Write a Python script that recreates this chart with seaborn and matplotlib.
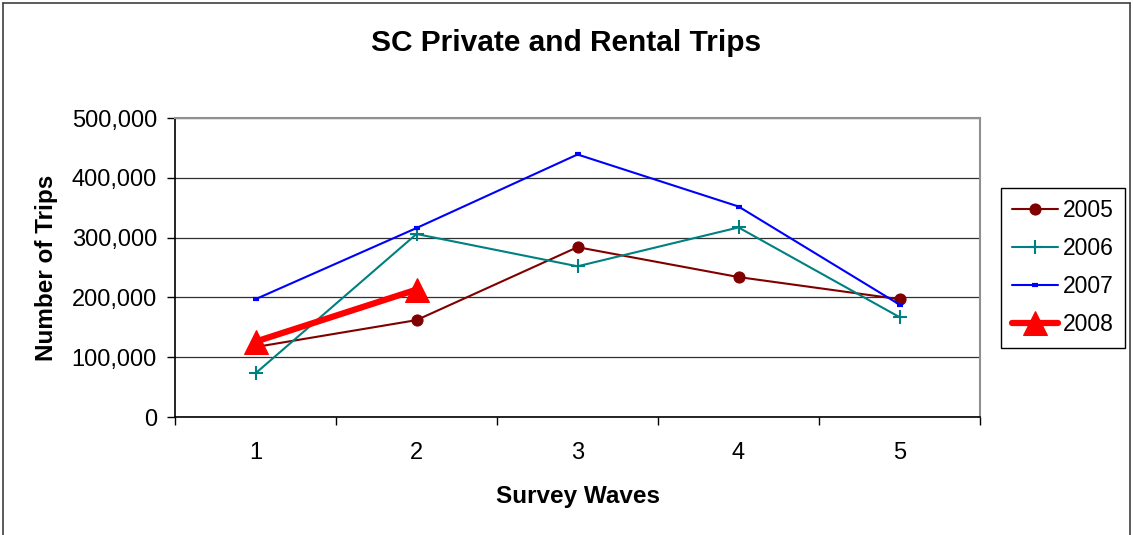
import matplotlib
matplotlib.use("Agg")
import matplotlib.pyplot as plt
from matplotlib.lines import Line2D
from matplotlib.ticker import FuncFormatter, FixedLocator
import seaborn as sns

# Values
waves = [1, 2, 3, 4, 5]
trips_2005 = [117000, 162000, 284000, 234000, 197000]
trips_2006 = [73000, 306000, 252000, 317000, 167000]
trips_2007 = [197000, 316000, 439000, 352000, 188000]
waves_2008 = [1, 2]
trips_2008 = [126000, 213000]

sns.set_style("white")
plt.rcParams["font.family"] = ["Liberation Sans", "DejaVu Sans"]
plt.rcParams["text.color"] = "black"
plt.rcParams["axes.labelcolor"] = "black"
plt.rcParams["xtick.color"] = "black"
plt.rcParams["ytick.color"] = "black"

fig = plt.figure(figsize=(11.33, 5.35), dpi=100)
ax = fig.add_axes([175 / 1133, 1 - 417 / 535, 805 / 1133, 299 / 535])

sns.lineplot(x=waves, y=trips_2005, ax=ax, color="#800000", lw=1.5,
             marker="o", markersize=8, mec="#800000", mfc="#800000", label="2005")
sns.lineplot(x=waves, y=trips_2006, ax=ax, color="#008080", lw=1.5,
             marker="+", markersize=10, mew=1.5, mec="#008080", label="2006")
sns.lineplot(x=waves, y=trips_2007, ax=ax, color="#0000FF", lw=1.5,
             marker="_", markersize=5, mew=3, mec="#0000FF", label="2007")
sns.lineplot(x=waves_2008, y=trips_2008, ax=ax, color="#FF0000", lw=4.5,
             marker="^", markersize=17, mec="#FF0000", mfc="#FF0000", label="2008")

# axes and grid
ax.set_xlim(0.5, 5.5)
ax.set_ylim(0, 500000)
ax.set_yticks([0, 100000, 200000, 300000, 400000, 500000])
ax.yaxis.set_major_formatter(FuncFormatter(lambda v, p: f"{int(v):,}"))
ax.xaxis.set_major_locator(FixedLocator([0.5, 1.5, 2.5, 3.5, 4.5, 5.5]))
ax.xaxis.set_minor_locator(FixedLocator(waves))
ax.set_xticklabels([])
ax.set_xticklabels([str(w) for w in waves], minor=True)
ax.tick_params(axis="x", which="major", direction="out", length=6, width=1, color="black", bottom=True)
ax.tick_params(axis="x", which="minor", length=0, pad=18, labelsize=17)
ax.tick_params(axis="y", direction="out", length=6, width=1, color="black", left=True,
               labelsize=17, pad=7)
ax.grid(axis="y", color="#303030", lw=0.9)
ax.set_axisbelow(True)
for side in ["left", "bottom"]:
    ax.spines[side].set_color("black")
    ax.spines[side].set_linewidth(1.2)
for side in ["top", "right"]:
    ax.spines[side].set_color("#909090")
    ax.spines[side].set_linewidth(1.5)

ax.set_xlabel("Survey Waves", fontsize=17.5, fontweight="bold", labelpad=15)
ax.set_ylabel("Number of Trips", fontsize=17.5, fontweight="bold", labelpad=10)
fig.suptitle("SC Private and Rental Trips", fontsize=21.5, fontweight="bold", y=1 - 29 / 535)

ax.get_legend().remove()
handles, labels = ax.get_legend_handles_labels()
leg = fig.legend(handles, labels, loc="upper left",
                 bbox_to_anchor=(1001 / 1133, 1 - 188 / 535), borderaxespad=0,
                 fontsize=16.5, frameon=True, fancybox=False, framealpha=1,
                 edgecolor="black", handlelength=2.0, labelspacing=0.65,
                 handletextpad=0.2, borderpad=0.5, numpoints=1)
leg.get_frame().set_linewidth(1.0)

# outer chart border
for xs, ys in [([3 / 1133, 3 / 1133], [0, 1 - 3 / 535]),
               ([3 / 1133, 1130 / 1133], [1 - 3 / 535, 1 - 3 / 535]),
               ([1130 / 1133, 1130 / 1133], [0, 1 - 3 / 535])]:
    fig.add_artist(Line2D(xs, ys, color="#404040", lw=1.2, transform=fig.transFigure))

fig.savefig("out.png", dpi=100)
